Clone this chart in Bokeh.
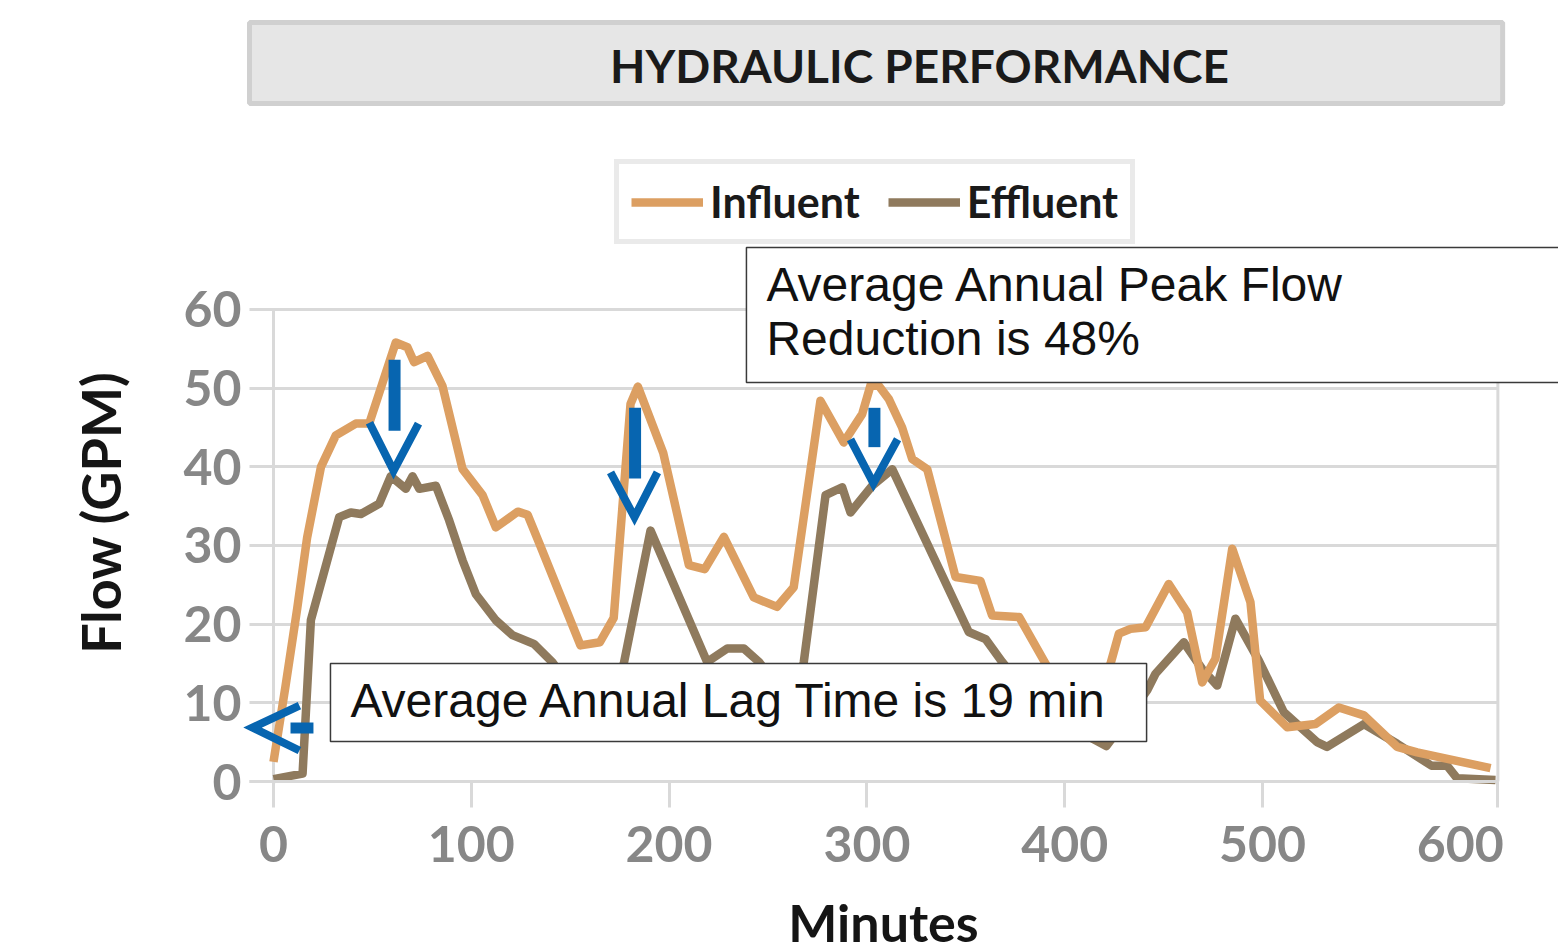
from math import pi
from bokeh.plotting import figure
from bokeh.models import (Range1d, FixedTicker, Label, BoxAnnotation,
                          Legend, LegendItem)
from bokeh.embed import file_html
from bokeh.resources import INLINE

# ---------------- data ----------------
influent_min = [0, 6, 12, 17, 24, 31.5, 41.6, 48.4, 61.8, 67.7, 71.1, 77.9, 85.4,
                95.6, 105.7, 112.4, 123.5, 128.5, 134.5, 155.2, 165, 172, 180.5,
                184.2, 197, 210, 218, 227.7, 242.8, 254.6, 263, 276.5, 288.3,
                297.6, 302, 306, 311.1, 317.8, 322.9, 330.5, 344.8, 357.4, 363.3,
                377, 390.3, 397, 406, 415, 423.2, 427.4, 433.3, 440.9, 452.6,
                461.9, 469.5, 476.2, 484.7, 493.9, 498.8, 512.5, 526.8, 538.6,
                551.3, 568.1, 578.2, 615.3]
influent_gpm = [2.5, 12, 22, 31, 40, 44.0, 45.5, 45.5, 55.8, 55.2, 53.3, 54.1, 50.3,
                39.7, 36.4, 32.3, 34.3, 33.9, 30.2, 17.3, 17.7, 20.8, 48.0,
                50.2, 41.8, 27.5, 27.0, 31.1, 23.4, 22.2, 24.7, 48.4, 43.1,
                46.7, 50.5, 50.3, 48.6, 45.0, 41.0, 39.7, 26.0, 25.5, 21.1,
                20.9, 15.0, 12, 9.5, 10, 15.0, 18.8, 19.4, 19.6, 25.1,
                21.5, 12.6, 15.6, 29.6, 22.8, 10.3, 6.9, 7.3, 9.4,
                8.4, 4.4, 3.7, 1.7]

effluent_min = [0, 14.7, 18.9, 33.2, 39.1, 44.2, 53.4, 59.3, 66.9, 70.3, 73.7, 82.1,
                88.8, 95.6, 102.3, 112.4, 120.8, 131.6, 140.9, 150, 160, 170, 177.1,
                190.6, 219.2, 229.4, 237.8, 245.4, 255, 263, 268.1, 279.1, 287.5,
                291.7, 302.7, 312.8, 351.5, 360, 368.4, 380, 395, 410, 421, 430,
                441.7, 445.9, 460.2, 469.5, 477.1, 486.3, 498.1, 510.8, 527.6,
                532.6, 551.3, 568.1, 585.5, 593.4, 598.4, 617.8]
effluent_gpm = [0.3, 1.0, 20.5, 33.6, 34.2, 34.0, 35.3, 38.8, 37.2, 38.8, 37.2, 37.6,
                33.2, 28.1, 23.8, 20.5, 18.6, 17.5, 15.2, 12, 10, 9, 15.0,
                31.9, 15.2, 16.9, 16.9, 15.2, 12, 9.5, 15.2, 36.4, 37.4,
                34.2, 37.6, 39.7, 19.0, 18.1, 15.2, 11.5, 8, 6, 4.5, 7.5,
                11.6, 13.7, 17.7, 14.3, 12.2, 20.7, 15.4, 8.8, 5.0,
                4.4, 7.3, 4.8, 2.0, 2.0, 0.4, 0.2]

x_ticks = [0, 100, 200, 300, 400, 500, 600]
y_ticks = [0, 10, 20, 30, 40, 50, 60]

title_text = "HYDRAULIC PERFORMANCE"
x_title = "Minutes"
y_title = "Flow (GPM)"
peak_text = ["Average Annual Peak Flow", "Reduction is 48%"]
lag_text = "Average Annual Lag Time is 19 min"

# annotation arrows (data units)
shaft_x = [61.2, 182.8, 303.8]
shaft_top = [53.6, 47.5, 47.5]
shaft_bottom = [44.6, 38.5, 42.5]
chevron_xs = [[48.5, 60.7, 73.3], [170.4, 182.5, 194.1], [291.7, 303.3, 315.5],
              [13.1, -10.6, 13.1]]
chevron_ys = [[45.6, 39.5, 45.5], [39.3, 33.6, 39.3], [43.5, 37.9, 43.5],
              [9.66, 6.86, 3.94]]

# ---------------- layout constants ----------------
X0, X1 = -12.13, 619.3          # plot-area edges in minutes
W, H = 1558, 952
PX_PER_MIN, PX_PER_GPM = 1.978, 7.867
ORIGIN_X, ORIGIN_Y = 273, 781   # canvas pixel of (0, 0)

C_IN = "#dc9f62"
C_EF = "#8f7a5d"
GRID = "#d9d9d9"
BLUE = "#0765b0"
BOX_LINE = "#3a3a3a"

p = figure(width=W, height=H, output_backend="svg", toolbar_location=None,
           x_range=Range1d(-ORIGIN_X / PX_PER_MIN, (W - ORIGIN_X) / PX_PER_MIN),
           y_range=Range1d(-(H - ORIGIN_Y) / PX_PER_GPM, ORIGIN_Y / PX_PER_GPM),
           min_border=0, min_border_left=0, min_border_right=0,
           min_border_top=0, min_border_bottom=0)
p.outline_line_color = None
p.background_fill_color = "white"
p.border_fill_color = "white"

# x axis
p.xaxis.fixed_location = 0
p.xaxis.bounds = (X0, X1)
p.xaxis.ticker = FixedTicker(ticks=x_ticks, minor_ticks=[0, 100, 200, 300, 400, 500, X1 - 0.3])
p.xaxis.axis_line_color = GRID
p.xaxis.axis_line_width = 3
p.xaxis.major_tick_out = 26
p.xaxis.major_tick_in = 0
p.xaxis.major_tick_line_color = None
p.xaxis.minor_tick_out = 26
p.xaxis.minor_tick_in = 0
p.xaxis.minor_tick_line_color = GRID
p.xaxis.minor_tick_line_width = 3
p.xaxis.major_label_standoff = 18
p.xaxis.major_label_text_font = "Lato"
p.xaxis.major_label_text_font_style = "bold"
p.xaxis.major_label_text_font_size = "50px"
p.xaxis.major_label_text_color = "#878787"

# y axis
p.yaxis.fixed_location = X0
p.yaxis.bounds = (0, 60)
p.yaxis.ticker = FixedTicker(ticks=y_ticks)
p.yaxis.axis_line_color = None
p.yaxis.major_tick_line_color = None
p.yaxis.major_tick_out = 0
p.yaxis.major_tick_in = 0
p.yaxis.minor_tick_line_color = None
p.yaxis.major_label_standoff = 8
p.yaxis.major_label_text_font = "Lato"
p.yaxis.major_label_text_font_style = "bold"
p.yaxis.major_label_text_font_size = "50px"
p.yaxis.major_label_text_color = "#878787"

p.xgrid.visible = False
p.ygrid.ticker = FixedTicker(ticks=y_ticks)
p.ygrid.grid_line_color = GRID
p.ygrid.grid_line_width = 3
try:
    p.ygrid.cross_bounds = (X0, X1)
except Exception:
    p.ygrid.visible = False
    p.segment(x0=[X0] * len(y_ticks), y0=y_ticks, x1=[X1] * len(y_ticks), y1=y_ticks,
              line_color=GRID, line_width=3)

# vertical edge lines of the plot area (value axis line and right border)
p.segment(x0=[0, X1 - 0.3], y0=[0, 0], x1=[0, X1 - 0.3], y1=[60, 60],
          line_color=GRID, line_width=3)

# series
r_ef = p.line(effluent_min, effluent_gpm, line_color=C_EF, line_width=8.5, line_join="round")
r_in = p.line(influent_min, influent_gpm, line_color=C_IN, line_width=8.5, line_join="round")

# arrows
p.segment(x0=shaft_x, y0=shaft_top, x1=shaft_x, y1=shaft_bottom, line_color=BLUE,
          line_width=12, line_cap="butt")
p.multi_line(xs=chevron_xs, ys=chevron_ys, line_color=BLUE, line_width=8,
             line_join="miter", line_cap="butt")
p.segment(x0=[8.6], y0=[6.8], x1=[20.2], y1=[6.8], line_color=BLUE, line_width=11,
          line_cap="butt")

# axis titles
p.add_layout(Label(x=308.4, y=-17.9, text=x_title, text_align="center",
                   text_baseline="middle", text_font="Lato", text_font_style="bold",
                   text_font_size="52px", text_color="#151515"))
p.add_layout(Label(x=-87.5, y=34.2, text=y_title, angle=pi / 2,
                   text_align="center", text_baseline="middle", text_font="Lato",
                   text_font_style="bold", text_font_size="54px", text_color="#151515"))

# title box
p.add_layout(BoxAnnotation(left=X0, right=621.4, top=96.48, bottom=86.18,
                           fill_color="#e6e6e6", fill_alpha=1,
                           line_color="#d0d0d0", line_alpha=1, line_width=5))
p.add_layout(Label(x=326.6, y=91.0, text=title_text, text_align="center",
                   text_baseline="middle", text_font="Lato", text_font_style="bold",
                   text_font_size="46px", text_color="#1a1a1a"))

# legend (location = bottom-left corner, pixels from the canvas bottom-left)
legend = Legend(items=[LegendItem(label="Influent", renderers=[r_in]),
                       LegendItem(label="Effluent", renderers=[r_ef])],
                location=(614, H - 244), orientation="horizontal",
                border_line_color="#d6d6d6", border_line_width=5,
                background_fill_color="white", background_fill_alpha=1,
                label_text_font="Lato", label_text_font_style="bold",
                label_text_font_size="43px", label_text_color="#1a1a1a",
                glyph_width=72, glyph_height=40, label_standoff=7,
                spacing=28, padding=12, margin=0)
p.add_layout(legend)

# annotation boxes
p.add_layout(BoxAnnotation(left=28.8, right=441.4, top=15.0, bottom=5.08,
                           fill_color="white", fill_alpha=1, line_color=BOX_LINE,
                           line_alpha=1, line_width=1.5))
p.add_layout(Label(x=38.9, y=10.3, text=lag_text, text_baseline="middle",
                   text_font="Liberation Sans", text_font_size="48px", text_color="#111111"))

p.add_layout(BoxAnnotation(left=239.1, right=660.0, top=67.88, bottom=50.72,
                           fill_color="white", fill_alpha=1, line_color=BOX_LINE,
                           line_alpha=1, line_width=1.5))
p.add_layout(Label(x=249.2, y=63.2, text=peak_text[0], text_baseline="middle",
                   text_font="Liberation Sans", text_font_size="48px", text_color="#111111"))
p.add_layout(Label(x=249.2, y=56.3, text=peak_text[1], text_baseline="middle",
                   text_font="Liberation Sans", text_font_size="48px", text_color="#111111"))

open("out.html", "w").write(file_html(p, INLINE))
